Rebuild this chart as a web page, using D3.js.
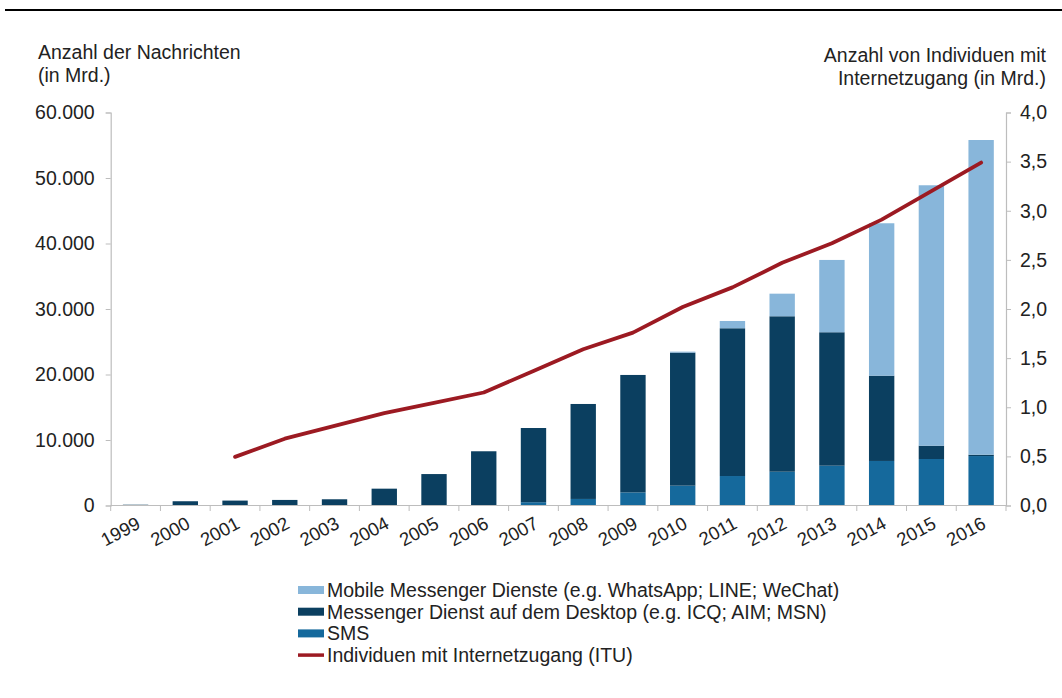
<!DOCTYPE html>
<html><head><meta charset="utf-8">
<script src="https://cdn.jsdelivr.net/npm/d3@7/dist/d3.min.js"></script>
<style>
html,body{margin:0;padding:0;background:#fff;}
svg{display:block;font-family:"Liberation Sans",Arial,sans-serif;}
</style></head>
<body><svg id="c" width="1062" height="698"></svg>
<script>
const years = ["1999","2000","2001","2002","2003","2004","2005","2006","2007","2008","2009","2010","2011","2012","2013","2014","2015","2016"];
const sms =     [0,0,0,0,0,0,0,0,500,1000,2000,3030,4500,5160,6080,6800,7100,7550];
const desktop = [120,650,750,850,950,2570,4800,8280,11330,14500,17930,20310,22560,23730,20370,13020,2030,200];
const mobile =  [0,0,0,0,0,0,0,0,0,0,0,150,1110,3450,11040,23270,39760,48050];
const internet = [null,null,0.495,0.68,0.81,0.94,1.045,1.15,1.37,1.59,1.76,2.02,2.22,2.47,2.67,2.91,3.2,3.49];
const leftTicks = [0,10000,20000,30000,40000,50000,60000];
const rightTicks = [0,0.5,1,1.5,2,2.5,3,3.5,4];
const seriesNames = ["Mobile Messenger Dienste (e.g. WhatsApp; LINE; WeChat)","Messenger Dienst auf dem Desktop (e.g. ICQ; AIM; MSN)","SMS","Individuen mit Internetzugang (ITU)"];

const colors = {mobile:"#88b6da", desktop:"#0b3f60", sms:"#15699c", line:"#9c1a22"};
const de = d3.formatLocale({decimal:",",thousands:".",grouping:[3],currency:["","€"]});
const FS = 19.5;

const svg = d3.select("#c");
const x = d3.scaleBand().domain(years).range([110.7,1006]).paddingInner(0.49).paddingOuter(0.245);
const yL = d3.scaleLinear().domain([0,60000]).range([505.5,112.5]);
const yR = d3.scaleLinear().domain([0,4]).range([505.5,112.5]);

// top rule
svg.append("line").attr("x1",5).attr("x2",1062).attr("y1",10).attr("y2",10).attr("stroke","#000").attr("stroke-width",2);

// titles
const tl = svg.append("text").attr("font-size",FS).attr("fill","#222");
tl.append("tspan").attr("x",38).attr("y",59).text("Anzahl der Nachrichten");
tl.append("tspan").attr("x",38).attr("y",82).text("(in Mrd.)");
const tr = svg.append("text").attr("font-size",FS).attr("fill","#222").attr("text-anchor","end");
tr.append("tspan").attr("x",1046).attr("y",62).text("Anzahl von Individuen mit");
tr.append("tspan").attr("x",1046).attr("y",85).text("Internetzugang  (in Mrd.)");

// stacked bars
const rows = years.map((y,i)=>({year:y,sms:sms[i],desktop:desktop[i],mobile:mobile[i]}));
const stack = d3.stack().keys(["sms","desktop","mobile"])(rows);
svg.append("g").selectAll("g").data(stack).join("g").attr("fill",d=>colors[d.key])
  .selectAll("rect").data(d=>d).join("rect")
  .attr("x",d=>x(d.data.year)).attr("width",x.bandwidth())
  .attr("y",d=>yL(d[1])).attr("height",d=>Math.max(0,yL(d[0])-yL(d[1])));

// axes
const axisColor = "#bdbdbd";
const gL = svg.append("g").attr("transform","translate(110.7,0)")
  .call(d3.axisLeft(yL).tickValues(leftTicks).tickSize(5).tickPadding(11).tickFormat(de.format(",.0f")));
const gR = svg.append("g").attr("transform","translate(1006,0)")
  .call(d3.axisRight(yR).tickValues(rightTicks).tickSize(5).tickPadding(9).tickFormat(de.format(".1f")));
const gB = svg.append("g").attr("transform","translate(0,505.5)")
  .call(d3.axisBottom(x).tickSize(0).tickPadding(0));
[gL,gR,gB].forEach(g=>{
  g.select(".domain").attr("stroke",axisColor).attr("stroke-width",1.2);
  g.selectAll(".tick line").attr("stroke",axisColor);
  g.selectAll("text").attr("fill","#222").attr("font-size",FS).attr("font-family","Liberation Sans, Arial, sans-serif");
});
gB.select(".domain").attr("d","M110.7,0H1006");
gB.selectAll(".tick text").attr("text-anchor","end").attr("dy",0)
  .attr("transform","translate(6,22) rotate(-28)").attr("font-size",18.5);
// category boundary ticks
const bounds = years.map(y=>x(y)-x.step()*x.paddingInner()/2).concat([1006]);
svg.append("g").selectAll("line").data(bounds).join("line")
  .attr("x1",d=>d).attr("x2",d=>d).attr("y1",505.5).attr("y2",511).attr("stroke",axisColor);

// line
const pts = years.map((y,i)=>({year:y,v:internet[i]})).filter(d=>d.v!=null);
svg.append("path").datum(pts).attr("fill","none").attr("stroke",colors.line).attr("stroke-width",3.8)
  .attr("stroke-linejoin","round").attr("stroke-linecap","round")
  .attr("d",d3.line().x(d=>x(d.year)+x.bandwidth()/2).y(d=>yR(d.v)));

// legend
const lg = svg.append("g").attr("font-size",FS).attr("fill","#222");
const legendItems = [
  {name:seriesNames[0],c:colors.mobile,t:"rect"},
  {name:seriesNames[1],c:colors.desktop,t:"rect"},
  {name:seriesNames[2],c:colors.sms,t:"rect"},
  {name:seriesNames[3],c:colors.line,t:"line"}];
legendItems.forEach((d,i)=>{
  const cy = 590 + i*21.7;
  if(d.t==="rect") lg.append("rect").attr("x",298).attr("y",cy-4).attr("width",26).attr("height",8).attr("fill",d.c);
  else lg.append("line").attr("x1",298).attr("x2",324).attr("y1",cy).attr("y2",cy).attr("stroke",d.c).attr("stroke-width",3.5);
  lg.append("text").attr("x",327).attr("y",cy+7).attr("fill","#222").text(d.name);
});
</script></body></html>
